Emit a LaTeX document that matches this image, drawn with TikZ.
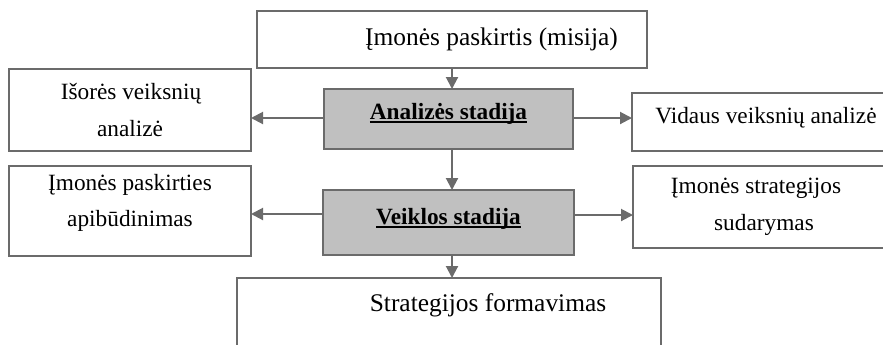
\documentclass[tikz,border=0pt]{standalone}
\usepackage{fontspec}
\setmainfont{Liberation Serif}
\newcommand{\myul}[1]{\setbox0\hbox{#1}\rlap{\rule[-1.8pt]{\wd0}{0.9pt}}\box0}
\usetikzlibrary{arrows.meta}
\definecolor{linegray}{HTML}{6B6B6B}
\definecolor{stagefill}{HTML}{C0C0C0}
\tikzset{
  box/.style={draw=linegray, line width=1pt, fill=white, inner sep=0pt, outer sep=0pt, rectangle},
  stagebox/.style={box, fill=stagefill},
  arr/.style={draw=linegray, line width=1pt, -{Triangle[length=6pt,width=6pt]}},
  bigtxt/.style={inner sep=0pt, anchor=base, font=\fontsize{12.7}{15}\selectfont},
  smalltxt/.style={inner sep=0pt, anchor=base, font=\fontsize{11.65}{14}\selectfont},
  stagetxt/.style={inner sep=0pt, anchor=base, font=\fontsize{11.65}{14}\selectfont\bfseries},
}
\begin{document}
\begin{tikzpicture}[x=0.5pt, y=-0.5pt]
\useasboundingbox (0,0) rectangle (883,344);
\clip (0,0) rectangle (883,344);
% boxes
\node[box, minimum width=195pt, minimum height=28.5pt] (top) at (452,39.5) {};
\node[box, minimum width=121pt, minimum height=41pt] (left1) at (130,110) {};
\node[stagebox, minimum width=124.5pt, minimum height=30pt] (analysis) at (448.5,119) {};
\node[box, minimum width=139pt, minimum height=29pt] (right1) at (771,122) {};
\node[box, minimum width=121pt, minimum height=45pt] (left2) at (130,211) {};
\node[stagebox, minimum width=125.5pt, minimum height=32.5pt] (veiklos) at (448.5,222.5) {};
\node[box, minimum width=138.5pt, minimum height=41pt] (right2) at (771.5,207) {};
\node[box, minimum width=212pt, minimum height=46pt] (bottom) at (449,324) {};
% texts
\node[bigtxt] (toptxt) at (491.5,45) {Įmonės paskirtis (misija)};
\node[smalltxt] (left1a) at (131,99) {Išorės veiksnių};
\node[smalltxt] (left1b) at (130,136) {analizė};
\node[stagetxt] (analysistxt) at (448.5,119.5) {\myul{Analizės stadija}};
\node[smalltxt, anchor=base west] (right1txt) at (655,123) {Vidaus veiksnių analizė};
\node[smalltxt] (left2a) at (130,190) {Įmonės paskirties};
\node[smalltxt] (left2b) at (130,226.5) {apibūdinimas};
\node[stagetxt] (veiklostxt) at (448.5,224) {\myul{Veiklos stadija}};
\node[smalltxt] (right2a) at (756,193) {Įmonės strategijos};
\node[smalltxt] (right2b) at (764,230) {sudarymas};
\node[bigtxt] (bottomtxt) at (488,311) {Strategijos formavimas};
% connectors
\draw[arr] (top.south) -- (top.south |- analysis.north);
\draw[arr] ([yshift=0.5pt]analysis.west) -- ([yshift=0.5pt]analysis.west -| left1.east);
\draw[arr] ([yshift=0.5pt]analysis.east) -- ([yshift=0.5pt]analysis.east -| right1.west);
\draw[arr] (analysis.south -| top.south) -- (veiklos.north -| top.south);
\draw[arr] ([yshift=4.25pt]veiklos.west) -- ([yshift=4.25pt]veiklos.west -| left2.east);
\draw[arr] ([yshift=3.75pt]veiklos.east) -- ([yshift=3.75pt]veiklos.east -| right2.west);
\draw[arr] (veiklos.south -| top.south) -- (bottom.north -| top.south);
\end{tikzpicture}
\end{document}
